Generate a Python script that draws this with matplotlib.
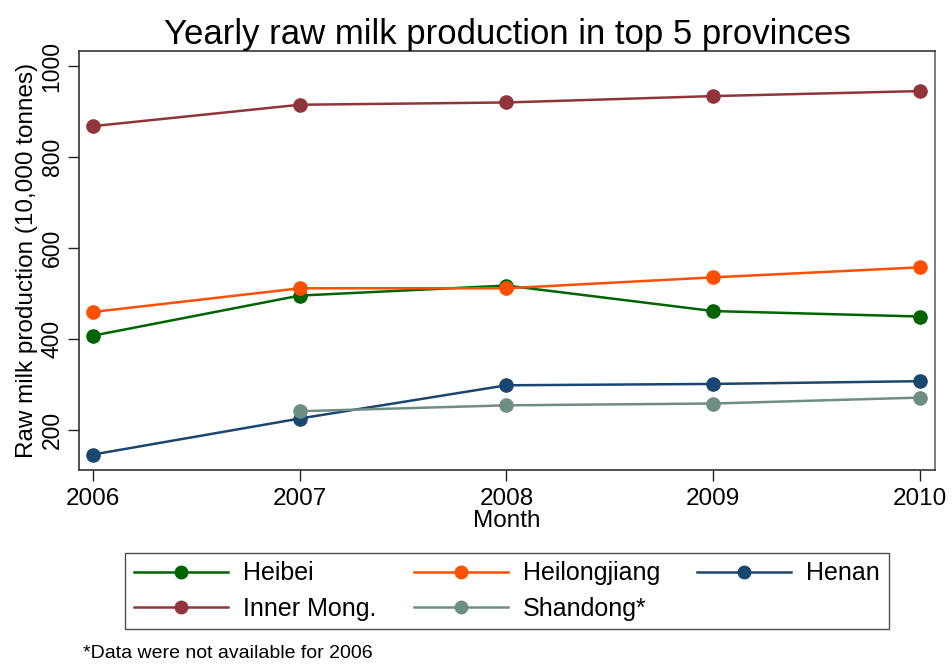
import matplotlib
matplotlib.use("Agg")
import matplotlib.pyplot as plt
from matplotlib.lines import Line2D

plt.rcParams["font.family"] = ["Liberation Sans", "DejaVu Sans"]

years = [2006, 2007, 2008, 2009, 2010]

# production, 10,000 tonnes
heibei = [408, 496, 518, 462, 450]
heilongjiang = [460, 512, 512, 536, 558]
henan = [147, 226, 299, 302, 308]
inner_mong = [868, 915, 920, 934, 945]
shandong = [None, 242, 255, 259, 272]  # no 2006 figure

series = [
    ("Heibei", heibei, "#006400"),
    ("Heilongjiang", heilongjiang, "#FF4F00"),
    ("Henan", henan, "#1A476F"),
    ("Inner Mong.", inner_mong, "#90353B"),
    ("Shandong*", shandong, "#6E8E84"),
]

yticks = [200, 400, 600, 800, 1000]

fig = plt.figure(figsize=(9.53, 6.66), dpi=100)
ax = fig.add_axes([79 / 953, 1 - 470 / 666, (935 - 79) / 953, (470 - 51) / 666])

handles = {}
for name, vals, col in series:
    xs = [x for x, v in zip(years, vals) if v is not None]
    ys = [v for v in vals if v is not None]
    (h,) = ax.plot(xs, ys, color=col, lw=1.8, marker="o", ms=9.5,
                   markeredgecolor=col, label=name)
    handles[name] = h

ax.set_xlim(2006 - 0.068, 2010 + 0.073)
ax.set_ylim(113, 1033)
ax.set_xticks(years)
ax.set_yticks(yticks)
ax.set_yticklabels([str(t) for t in yticks], rotation=90, va="center")
ax.tick_params(axis="both", length=8, width=1, direction="out", color="#222222")
ax.tick_params(axis="x", labelsize=17.5, pad=5)
ax.tick_params(axis="y", labelsize=16.5, pad=3)
for s in ax.spines.values():
    s.set_color("#333333")
    s.set_linewidth(1.2)
ax.spines["right"].set_color("#666666")

ax.set_xlabel("Month", fontsize=17.5, labelpad=0)
ax.set_ylabel("Raw milk production (10,000 tonnes)", fontsize=17.5, labelpad=2)
ax.set_title("Yearly raw milk production in top 5 provinces", fontsize=25, pad=5)

# row-wise order for a 3-column legend
order = ["Heibei", "Inner Mong.", "Heilongjiang", "Shandong*", "Henan"]
leg_handles = [Line2D([], [], color=handles[n].get_color(), lw=1.8,
                      marker="o", ms=9) for n in order]
leg = fig.legend(leg_handles, order, loc="center", ncol=3,
                 bbox_to_anchor=(507 / 953, 1 - 591 / 666),
                 fontsize=18, frameon=True, fancybox=False, edgecolor="#222222",
                 handlelength=3.75, handletextpad=0.6, columnspacing=1.5,
                 labelspacing=0.45, borderpad=0.35, borderaxespad=0)
leg.get_frame().set_linewidth(1.0)

fig.text(83 / 953, 1 - 654 / 666, "*Data were not available for 2006",
         fontsize=14, va="center", ha="left")

fig.savefig("out.png", dpi=100)
